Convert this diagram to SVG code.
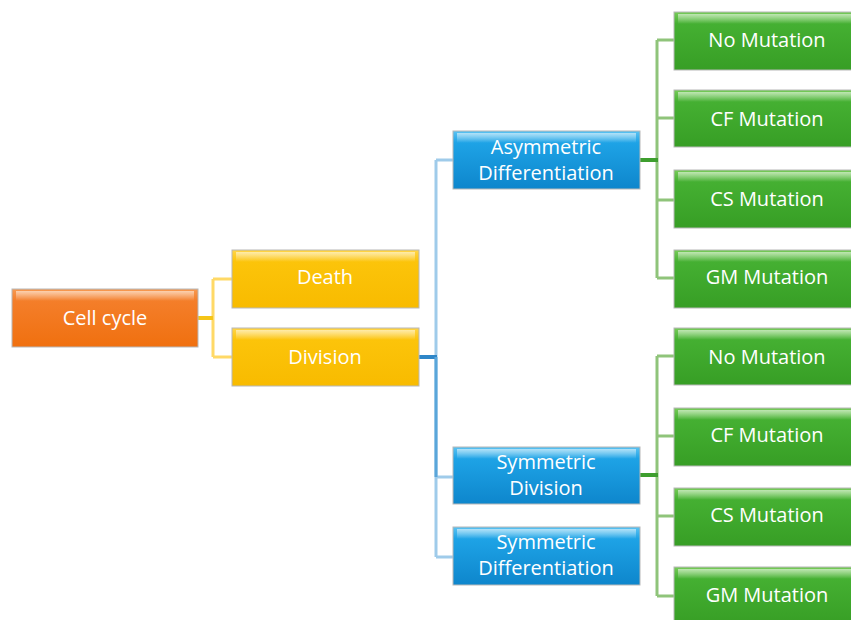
<svg xmlns="http://www.w3.org/2000/svg" width="851" height="620" viewBox="0 0 851 620">
<defs>
<linearGradient id="gO" x1="0" y1="0" x2="0" y2="1"><stop offset="0" stop-color="#f79a52"/><stop offset="0.2" stop-color="#f47e2a"/><stop offset="1" stop-color="#f0700f"/></linearGradient>
<linearGradient id="gY" x1="0" y1="0" x2="0" y2="1"><stop offset="0" stop-color="#ffd54a"/><stop offset="0.2" stop-color="#fcc40a"/><stop offset="1" stop-color="#f8bb00"/></linearGradient>
<linearGradient id="gB" x1="0" y1="0" x2="0" y2="1"><stop offset="0" stop-color="#5cc3f2"/><stop offset="0.2" stop-color="#1ea3e6"/><stop offset="1" stop-color="#0e86cc"/></linearGradient>
<linearGradient id="gG" x1="0" y1="0" x2="0" y2="1"><stop offset="0" stop-color="#78cc5a"/><stop offset="0.2" stop-color="#45b032"/><stop offset="1" stop-color="#379e25"/></linearGradient>
<linearGradient id="hl" x1="0" y1="0" x2="0" y2="1"><stop offset="0" stop-color="#ffffff" stop-opacity="0.55"/><stop offset="1" stop-color="#ffffff" stop-opacity="0"/></linearGradient>
</defs>
<style>
.n{stroke:#b8b8b8;stroke-width:1}
.h{fill:url(#hl)}
.t{font-family:"Open Sans","Liberation Sans",sans-serif;font-size:20px;fill:#ffffff;text-anchor:middle}
.cy{fill:none;stroke:#ffd966;stroke-width:3}
.cb{fill:none;stroke:#9fcbea;stroke-width:3}
.cg{fill:none;stroke:#8fc47a;stroke-width:3}
</style>
<g id="connectors">
<path class="cy" d="M213 279 V357 M213 279 H232 M213 357 H232"/>
<path d="M198 318 H213" stroke="#f5c518" stroke-width="4" fill="none"/>
<path class="cb" d="M436 160 V557 M436 160 H453 M436 477 H453 M436 557 H453"/>
<path d="M419 357 H437" stroke="#2e86c8" stroke-width="4" fill="none"/>
<path d="M436 357 V477" stroke="#5aa6da" stroke-width="3" fill="none"/>
<path class="cg" d="M657 40 V278 M657 40 H674 M657 118 H674 M657 200 H674 M657 278 H674"/>
<path class="cg" d="M657 356 V596 M657 356 H674 M657 436 H674 M657 516 H674 M657 596 H674"/>
<path d="M640 160 H658 M640 475 H658" stroke="#3e9e2e" stroke-width="4" fill="none"/>
</g>
<g id="cellcycle"><rect class="n" x="12" y="289" width="186" height="58" fill="url(#gO)"/><rect class="h" x="16" y="291" width="178" height="10"/><text class="t" x="105" y="325">Cell cycle</text></g>
<g id="death"><rect class="n" x="232" y="250" width="187" height="58" fill="url(#gY)"/><rect class="h" x="236" y="252" width="179" height="10"/><text class="t" x="325" y="284">Death</text></g>
<g id="division"><rect class="n" x="232" y="328" width="187" height="58" fill="url(#gY)"/><rect class="h" x="236" y="330" width="179" height="10"/><text class="t" x="325" y="364">Division</text></g>
<g id="asym"><rect class="n" x="453" y="131" width="187" height="58" fill="url(#gB)"/><rect class="h" x="457" y="133" width="179" height="10"/><text class="t" x="546" y="154">Asymmetric</text><text class="t" x="546" y="180">Differentiation</text></g>
<g id="symdiv"><rect class="n" x="453" y="447" width="187" height="57" fill="url(#gB)"/><rect class="h" x="457" y="449" width="179" height="10"/><text class="t" x="546" y="469">Symmetric</text><text class="t" x="546" y="495">Division</text></g>
<g id="symdiff"><rect class="n" x="453" y="527" width="187" height="58" fill="url(#gB)"/><rect class="h" x="457" y="529" width="179" height="10"/><text class="t" x="546" y="549">Symmetric</text><text class="t" x="546" y="575">Differentiation</text></g>
<g id="a_no"><rect class="n" x="674" y="12" width="185" height="58" fill="url(#gG)"/><rect class="h" x="678" y="14" width="180" height="10"/><text class="t" x="767" y="47">No Mutation</text></g>
<g id="a_cf"><rect class="n" x="674" y="90" width="185" height="57" fill="url(#gG)"/><rect class="h" x="678" y="92" width="180" height="10"/><text class="t" x="767" y="126">CF Mutation</text></g>
<g id="a_cs"><rect class="n" x="674" y="170" width="185" height="58" fill="url(#gG)"/><rect class="h" x="678" y="172" width="180" height="10"/><text class="t" x="767" y="206">CS Mutation</text></g>
<g id="a_gm"><rect class="n" x="674" y="250" width="185" height="58" fill="url(#gG)"/><rect class="h" x="678" y="252" width="180" height="10"/><text class="t" x="767" y="284">GM Mutation</text></g>
<g id="s_no"><rect class="n" x="674" y="328" width="185" height="57" fill="url(#gG)"/><rect class="h" x="678" y="330" width="180" height="10"/><text class="t" x="767" y="364">No Mutation</text></g>
<g id="s_cf"><rect class="n" x="674" y="408" width="185" height="58" fill="url(#gG)"/><rect class="h" x="678" y="410" width="180" height="10"/><text class="t" x="767" y="442">CF Mutation</text></g>
<g id="s_cs"><rect class="n" x="674" y="488" width="185" height="58" fill="url(#gG)"/><rect class="h" x="678" y="490" width="180" height="10"/><text class="t" x="767" y="522">CS Mutation</text></g>
<g id="s_gm"><rect class="n" x="674" y="567" width="185" height="58" fill="url(#gG)"/><rect class="h" x="678" y="569" width="180" height="10"/><text class="t" x="767" y="602">GM Mutation</text></g>
</svg>
